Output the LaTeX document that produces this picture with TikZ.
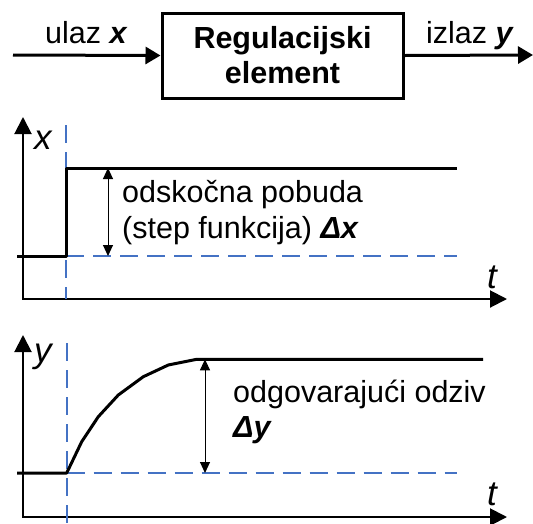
\documentclass[tikz,border=0pt]{standalone}
\usepackage{fontspec}
\setmainfont{Liberation Sans}
\usetikzlibrary{arrows.meta,positioning}
\definecolor{guideblue}{RGB}{68,114,196}
\tikzset{
  signal/.style={line width=3pt,line join=round},
  axis/.style={line width=2pt,{Triangle[length=17pt,width=17pt]}-{Triangle[length=17pt,width=17pt]}},
  guide/.style={guideblue,line width=1.7pt,dash pattern=on 18pt off 9pt},
  delta/.style={line width=1pt,{Triangle[length=11pt,width=10pt]}-{Triangle[length=11pt,width=10pt]}},
  lbl/.style={anchor=base west,inner sep=0pt},
  axlbl/.style={lbl,font=\axisfont\itshape}
}
\newcommand{\bigfont}{\fontsize{30.5}{35}\selectfont}
\newcommand{\axisfont}{\fontsize{35}{40}\selectfont}

\begin{document}
\begin{tikzpicture}[x=1pt,y=-1pt,>={Triangle[length=15pt,width=17pt]},font=\bigfont]
  \useasboundingbox (0,0) rectangle (533,523);

  % block with input and output
  \node[draw,line width=3pt,minimum width=241pt,minimum height=85pt,inner sep=0pt,
        align=center,font=\bigfont\bfseries] (reg) at (282.5,55.5) {Regulacijski\\element};
  \coordinate (in) at (13,55);
  \coordinate (out) at (533,55);
  \draw[signal,->] (in) -- (reg.west);
  \draw[signal,->] (reg.east) -- (out);
  \node[lbl] (ulaz) at (45,43) {ulaz \textbf{\textit{x}}};
  \node[lbl] (izlaz) at (426,43) {izlaz \textbf{\textit{y}}};

  % step input
  \coordinate (xtop) at (23,117);
  \coordinate (xo) at (23,299);
  \coordinate (xend) at (507,299);
  \draw[axis] (xtop) -- (xo) -- (xend);
  \draw[guide] (66,125) -- (66,299);
  \draw[guide] (66,256) -- (457,256);
  \draw[signal] (17,256) -- (66,256) -- (66,168) -- (457,168);
  \coordinate (dxhi) at (108,168);
  \coordinate (dxlo) at (108,256);
  \draw[delta] (dxhi) -- (dxlo);
  \node[axlbl] (xlab) at (34,149) {x};
  \node[axlbl] (tx) at (487,288) {t};
  \node[lbl] (pobuda) at (122,202) {odskočna pobuda};
  \node[lbl] (stepf) at ([yshift=-36pt]pobuda.base west) {(step funkcija) \textbf{\textit{Δx}}};

  % response
  \coordinate (ytop) at (23,335);
  \coordinate (yo) at (23,517);
  \coordinate (yend) at (507,517);
  \draw[axis] (ytop) -- (yo) -- (yend);
  \draw[guide] (66.7,343) -- (66.7,523);
  \draw[guide] (66.7,473) -- (457,473);
  \draw[signal] (17,473) -- (66.7,473) -- (81.7,441.7) -- (98.3,416.7) -- (118.3,395)
    -- (143.3,376.7) -- (168.3,365) -- (196.7,359.3) -- (483,359.3);
  \coordinate (dyhi) at (205,359.3);
  \coordinate (dylo) at (205,473);
  \draw[delta] (dyhi) -- (dylo);
  \node[axlbl] (ylab) at (34,362.5) {y};
  \node[axlbl] (ty) at (487,505) {t};
  \node[lbl] (odziv) at (233,402) {odgovarajući odziv};
  \node[lbl] (dy) at ([yshift=-35pt]odziv.base west) {\textbf{\textit{Δy}}};
\end{tikzpicture}
\end{document}
